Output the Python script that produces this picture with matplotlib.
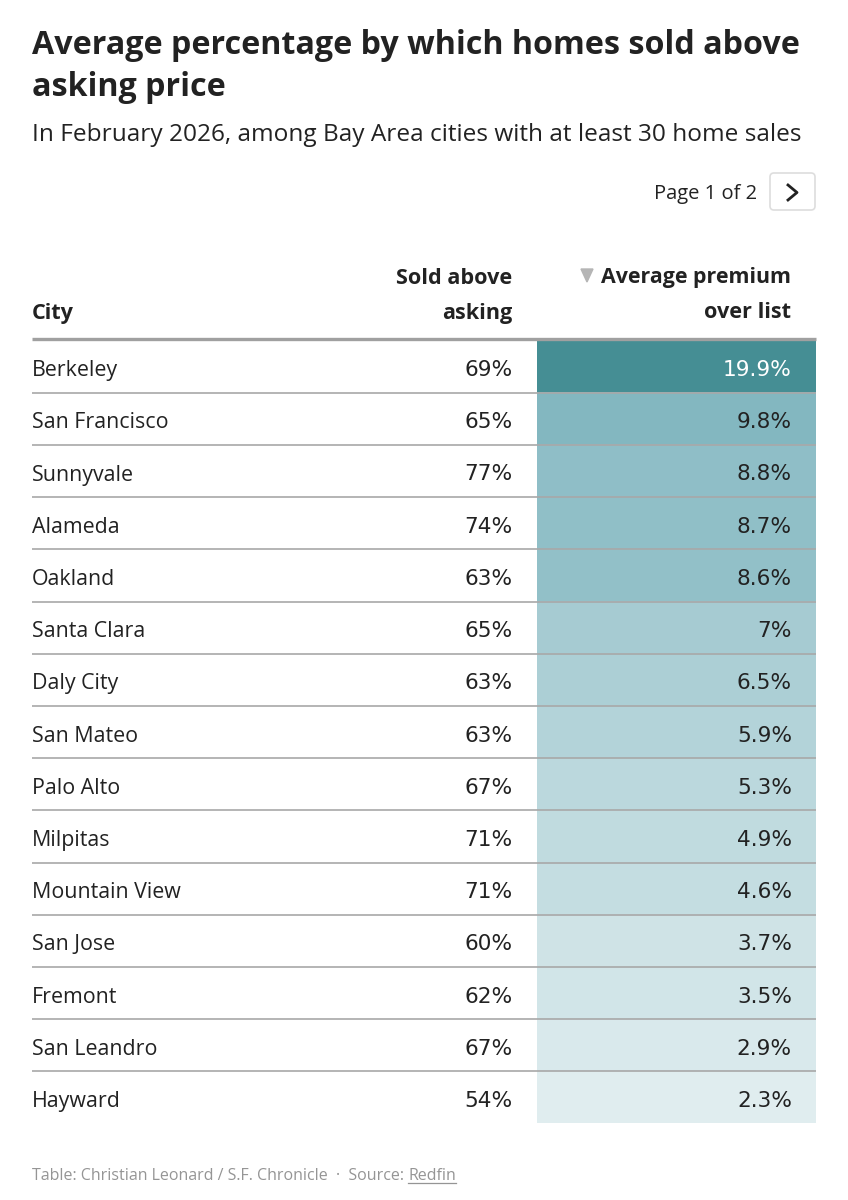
#!/usr/bin/env python3
# Bay Area home sale premiums table
import matplotlib
matplotlib.use("Agg")
import matplotlib.pyplot as plt
from matplotlib.colors import LinearSegmentedColormap, Normalize
from matplotlib.patches import FancyBboxPatch, Rectangle

cities = ["Berkeley", "San Francisco", "Sunnyvale", "Alameda", "Oakland",
          "Santa Clara", "Daly City", "San Mateo", "Palo Alto", "Milpitas",
          "Mountain View", "San Jose", "Fremont", "San Leandro", "Hayward"]
sold_above = [69, 65, 77, 74, 63, 65, 63, 63, 67, 71, 71, 60, 62, 67, 54]
premium = [19.9, 9.8, 8.8, 8.7, 8.6, 7, 6.5, 5.9, 5.3, 4.9, 4.6, 3.7, 3.5, 2.9, 2.3]

title_lines = ["Average percentage by which homes sold above", "asking price"]
subtitle = "In February 2026, among Bay Area cities with at least 30 home sales"
credit = "Table: Christian Leonard / S.F. Chronicle  ·  Source: "
credit_link = "Redfin"

plt.rcParams["font.family"] = ["Open Sans", "DejaVu Sans"]
INK = "#222222"
NUM_FONT = "DejaVu Sans"  # wide digits, closer to the spaced numerals of the table

fig = plt.figure(figsize=(8.48, 12), dpi=100)
ax = fig.add_axes([0, 0, 1, 1])
ax.set_xlim(0, 848)
ax.set_ylim(1200, 0)
ax.axis("off")

# --- heading ---
ax.text(32, 46, title_lines[0], fontsize=23.2, fontweight="bold", color=INK, va="center")
ax.text(32, 87, title_lines[1], fontsize=23.2, fontweight="bold", color=INK, va="center")
ax.text(32, 135, subtitle, fontsize=17.55, color=INK, va="center")

# --- pager ---
ax.text(757, 194, "Page 1 of 2", fontsize=14.5, color=INK, ha="right", va="center")
ax.add_patch(FancyBboxPatch((770, 173), 45, 37, boxstyle="round,pad=0,rounding_size=4",
                            fc="white", ec="#dddddd", lw=1.2))
ax.plot([788, 797, 788], [185, 192.5, 200], color=INK, lw=2)

# --- table header ---
ax.text(32, 313, "City", fontsize=15.6, fontweight="bold", color=INK, va="center")
ax.text(512, 278, "Sold above", fontsize=15.6, fontweight="bold", color=INK, ha="right", va="center")
ax.text(512, 313, "asking", fontsize=15.6, fontweight="bold", color=INK, ha="right", va="center")
ax.text(791, 277, "Average premium", fontsize=15.4, fontweight="bold", color=INK, ha="right", va="center")
ax.text(791, 313, "over list", fontsize=15.6, fontweight="bold", color=INK, ha="right", va="center")
ax.fill([581, 593, 587], [269, 269, 282], color="#b5b5b5")

# --- rows ---
cmap = LinearSegmentedColormap.from_list(
    "premium", [(0, "#e0edef"), (0.42, "#84b8c1"), (1, "#458e94")])
norm = Normalize(min(premium), max(premium))
top = 340
row_h = 52.2
for i, city in enumerate(cities):
    y0 = top + i * row_h
    mid = y0 + row_h / 2
    ax.add_patch(Rectangle((537, y0), 279, row_h, fc=cmap(norm(premium[i])), ec="none"))
    ax.text(32, mid + 4.5, city, fontsize=15.4, color=INK, va="center")
    ax.text(513, mid + 4, f"{sold_above[i]}%", fontsize=15.6, family=NUM_FONT, color=INK,
            ha="right", va="center")
    txt = "white" if premium[i] > 15 else INK
    ax.text(792, mid + 4, f"{premium[i]:g}%", fontsize=15.6, family=NUM_FONT, color=txt,
            ha="right", va="center")
    if i > 0:
        ax.plot([32, 816], [y0 + 0.5, y0 + 0.5], color="#a8a8a8", lw=1.2, solid_capstyle="butt")
ax.plot([32, 816], [339, 339], color="#a0a0a0", lw=2.4, solid_capstyle="butt")

# --- footer ---
t = ax.text(32, 1176, credit, fontsize=11.5, color="#959595", va="center")
fig.canvas.draw()
x1 = t.get_window_extent().x1
ax.text(x1, 1176, credit_link, fontsize=11.5, color="#959595", va="center")
link = ax.texts[-1].get_window_extent()
ax.plot([link.x0, link.x1], [1183, 1183], color="#959595", lw=0.9)

fig.savefig("out.png", dpi=100)
